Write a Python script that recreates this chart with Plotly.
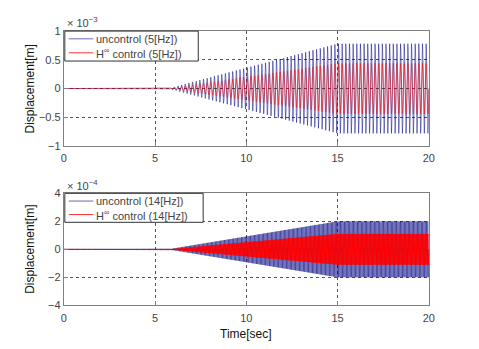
import numpy as np
import plotly.graph_objects as go

# ---- data ----
freq_top = 5.0     # Hz (legend)
freq_bot = 14.0    # Hz (legend)
env_t = [0.0, 5.7, 15.0, 20.0]                 # envelope knots [sec]
env_unc_top = [0.0, 0.0, 0.78, 0.78]           # x1e-3 m
env_ctl_top = [0.0, 0.0, 0.44, 0.44]           # x1e-3 m
env_unc_bot = [0.0, 0.0, 2.0, 2.0]             # x1e-4 m
env_ctl_bot = [0.0, 0.0, 1.1, 1.1]             # x1e-4 m
x_ticks = [0, 5, 10, 15, 20]
y_ticks_top = [-1, -0.5, 0, 0.5, 1]
y_ticks_bot = [-4, -2, 0, 2, 4]
legend_top = ["uncontrol (5[Hz])", "H<sup>∞</sup> control (5[Hz])"]
legend_bot = ["uncontrol (14[Hz])", "H<sup>∞</sup> control (14[Hz])"]

t = np.arange(0, 20.0005, 0.002)
def sig(env, f):
    return np.interp(t, env_t, env) * np.sin(2 * np.pi * f * t)

W, H = 479, 349
def px_x(a, b): return [a / W, b / W]
def px_y(top, bot): return [1 - bot / H, 1 - top / H]
def fx(p): return p / W
def fy(p): return 1 - p / H

BLUE = "#000080"
RED = "#ff0000"

fig = go.Figure()
fig.add_trace(go.Scatter(x=t, y=sig(env_unc_top, freq_top), mode="lines",
                         line=dict(color=BLUE, width=0.5), name=legend_top[0],
                         xaxis="x", yaxis="y", showlegend=False))
fig.add_trace(go.Scatter(x=t, y=sig(env_ctl_top, freq_top), mode="lines",
                         line=dict(color=RED, width=0.5), name=legend_top[1],
                         xaxis="x", yaxis="y", showlegend=False))
fig.add_trace(go.Scatter(x=t, y=sig(env_unc_bot, freq_bot), mode="lines",
                         line=dict(color=BLUE, width=0.5), name=legend_bot[0],
                         xaxis="x2", yaxis="y2", showlegend=False))
fig.add_trace(go.Scatter(x=t, y=sig(env_ctl_bot, freq_bot), mode="lines",
                         line=dict(color=RED, width=1), name=legend_bot[1],
                         xaxis="x2", yaxis="y2", showlegend=False))

FONT = "Liberation Sans, Arial, sans-serif"
TICKC = "#444444"
axcommon = dict(showline=True, mirror=True, linecolor="#808080", linewidth=1,
                ticks="inside", ticklen=4, tickcolor="#808080",
                showgrid=True, gridcolor="#555555", gridwidth=1, griddash="dot",
                zeroline=False, tickfont=dict(family=FONT, size=11, color=TICKC))

xd = px_x(62, 434)
shapes = []
annotations = []

def add_legend(box, lines_y, labels, colors):
    x0, y0, x1, y1 = box
    shapes.append(dict(type="rect", xref="paper", yref="paper",
                       x0=fx(x0), x1=fx(x1), y0=fy(y1), y1=fy(y0),
                       line=dict(color="#333333", width=1), fillcolor="white", layer="above"))
    for ly, lab, c in zip(lines_y, labels, colors):
        shapes.append(dict(type="line", xref="paper", yref="paper",
                           x0=fx(67), x1=fx(92), y0=fy(ly), y1=fy(ly),
                           line=dict(color=c, width=1), layer="above"))
        annotations.append(dict(text=lab, x=fx(93), y=fy(ly), xref="paper", yref="paper",
                                xanchor="left", yanchor="middle", showarrow=False,
                                font=dict(family=FONT, size=11, color=TICKC)))

add_legend((63, 26, 199, 57), [34, 48.5], legend_top, ["#6a6ac0", "#ff3030"])
add_legend((63, 194, 204, 224), [202, 216], legend_bot, ["#6a6ac0", "#ff3030"])

annotations += [
    dict(text="× 10<sup>−3</sup>", x=fx(63), y=fy(17), xref="paper", yref="paper",
         xanchor="left", yanchor="middle", showarrow=False,
         font=dict(family=FONT, size=11, color=TICKC)),
    dict(text="× 10<sup>−4</sup>", x=fx(63), y=fy(185), xref="paper", yref="paper",
         xanchor="left", yanchor="middle", showarrow=False,
         font=dict(family=FONT, size=11, color=TICKC)),
    dict(text="Displacement[m]", x=fx(28), y=fy(86), xref="paper", yref="paper",
         textangle=-90, showarrow=False, xanchor="center", yanchor="middle",
         font=dict(family=FONT, size=12, color="#111111")),
    dict(text="Displacement[m]", x=fx(28), y=fy(252), xref="paper", yref="paper",
         textangle=-90, showarrow=False, xanchor="center", yanchor="middle",
         font=dict(family=FONT, size=12, color="#111111")),
    dict(text="Time[sec]", x=fx(248), y=fy(340), xref="paper", yref="paper",
         showarrow=False, xanchor="center", yanchor="middle",
         font=dict(family=FONT, size=12, color="#111111")),
]

fig.update_layout(
    width=W, height=H, margin=dict(l=0, r=0, t=0, b=0),
    paper_bgcolor="white", plot_bgcolor="white",
    font=dict(family=FONT, size=11, color="#222222"),
    showlegend=False,
    xaxis=dict(domain=xd, range=[0, 20], tickvals=x_ticks, anchor="y",
               ticklabelstandoff=2, **axcommon),
    yaxis=dict(domain=px_y(26, 145), range=[-1, 1], tickvals=y_ticks_top,
               ticktext=["−1", "−0.5", "0", "0.5", "1"], anchor="x", **axcommon),
    xaxis2=dict(domain=xd, range=[0, 20], tickvals=x_ticks, anchor="y2",
                ticklabelstandoff=2, **axcommon),
    yaxis2=dict(domain=px_y(194, 310), range=[-4, 4], tickvals=y_ticks_bot,
                ticktext=["−4", "−2", "0", "2", "4"], anchor="x2", **axcommon),
    shapes=shapes,
    annotations=annotations,
)

fig.write_html("out.html")
